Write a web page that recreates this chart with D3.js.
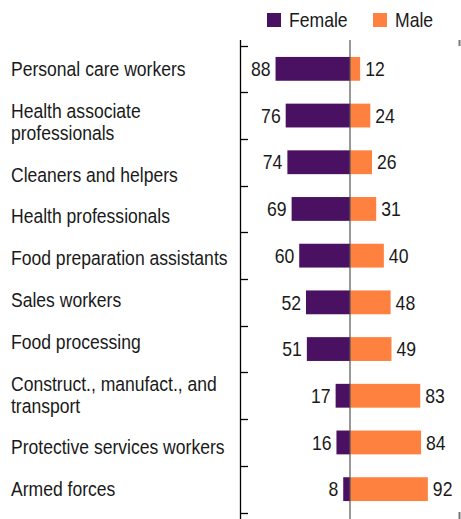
<!DOCTYPE html>
<html><head><meta charset="utf-8">
<script src="https://cdn.jsdelivr.net/npm/d3@7"></script>
<style>body{margin:0;background:#fff}svg{display:block}text{font-family:"Liberation Sans",Arial,sans-serif;fill:#1a1a1a}</style>
</head><body>
<script>
const categories = [
  ["Personal care workers"],
  ["Health associate","professionals"],
  ["Cleaners and helpers"],
  ["Health professionals"],
  ["Food preparation assistants"],
  ["Sales workers"],
  ["Food processing"],
  ["Construct., manufact., and","transport"],
  ["Protective services workers"],
  ["Armed forces"]
];
const female = [88,76,74,69,60,52,51,17,16,8];
const male = [12,24,26,31,40,48,49,83,84,92];
const seriesNames = ["Female","Male"];
const colors = ["#4a1163","#ff8140"];

const W=461,H=519;
const SX=0.88;
const svg=d3.select("body").append("svg").attr("width",W).attr("height",H);
const x=d3.scaleLinear().domain([-130,130]).range([240,460]);
const y=d3.scaleBand().domain(d3.range(categories.length)).range([45.5,512.5]).paddingInner(0.49).paddingOuter(0.245);
const yb=d3.scaleBand().domain(d3.range(categories.length)).range([45.5,512.5]);

function ctext(parent,xx,yy,str,size,anchor){
  return parent.append("text").attr("transform",`translate(${xx},${yy}) scale(${SX},1)`)
    .attr("dy","0.36em").attr("font-size",size).attr("text-anchor",anchor||"start").text(str);
}

// left axis
svg.append("line").attr("x1",240.5).attr("x2",240.5).attr("y1",40).attr("y2",H).attr("stroke","#000").attr("stroke-width",1.3);
d3.range(categories.length+1).forEach(i=>{
  const yy = i<categories.length? yb(i): yb(categories.length-1)+yb.bandwidth();
  svg.append("line").attr("x1",240).attr("x2",248).attr("y1",Math.round(yy)+0.5).attr("y2",Math.round(yy)+0.5).attr("stroke","#000").attr("stroke-width",1.3);
});
// right stub
svg.append("line").attr("x1",459.5).attr("x2",459.5).attr("y1",40).attr("y2",46).attr("stroke","#777").attr("stroke-width",2);
svg.append("line").attr("x1",459.5).attr("x2",459.5).attr("y1",512).attr("y2",H).attr("stroke","#777").attr("stroke-width",2);

const g=svg.append("g");
g.selectAll("rect.f").data(female).join("rect").attr("class","f")
  .attr("x",d=>x(-d)).attr("width",d=>x(0)-x(-d)).attr("y",(d,i)=>y(i)).attr("height",y.bandwidth()).attr("fill",colors[0]);
g.selectAll("rect.m").data(male).join("rect").attr("class","m")
  .attr("x",x(0)).attr("width",d=>x(d)-x(0)).attr("y",(d,i)=>y(i)).attr("height",y.bandwidth()).attr("fill",colors[1]);

// center line
svg.append("line").attr("x1",x(0)).attr("x2",x(0)).attr("y1",40).attr("y2",H).attr("stroke","#555").attr("stroke-width",1.2);

female.forEach((d,i)=>ctext(g,x(-d)-5,y(i)+y.bandwidth()/2,d,20,"end"));
male.forEach((d,i)=>ctext(g,x(d)+5,y(i)+y.bandwidth()/2,d,20,"start"));

// category labels (flow layout)
let cy=69;
categories.forEach((lines,i)=>{
  if(i>0){ cy += 41.8/2 + (categories[i-1].length-1)*11 + 41.8/2 + (lines.length-1)*11; }
  lines.forEach((l,j)=>{
    ctext(svg,11,cy+(j-(lines.length-1)/2)*22,l,19.5,"start").attr("transform",`translate(11,${cy+(j-(lines.length-1)/2)*22}) scale(0.9,1)`);
  });
});

// legend
const leg=[{x:267,tx:289},{x:373,tx:395}];
seriesNames.forEach((n,i)=>{
  svg.append("rect").attr("x",leg[i].x).attr("y",13).attr("width",14).attr("height",14).attr("fill",colors[i]);
  ctext(svg,leg[i].tx,20,n,20,"start");
});
</script>
</body></html>
